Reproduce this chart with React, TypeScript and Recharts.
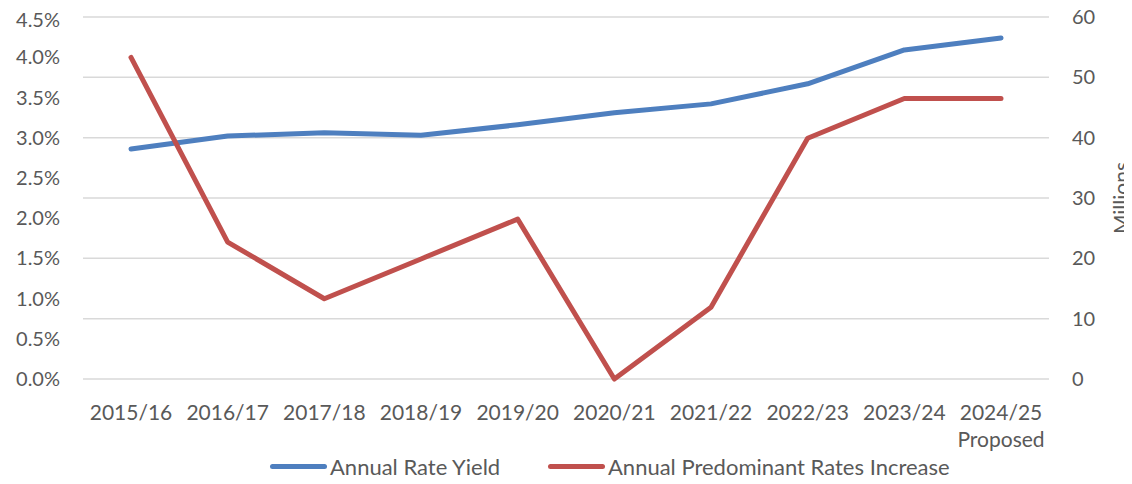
import {
  LineChart,
  Line,
  XAxis,
  YAxis,
  CartesianGrid,
  Legend,
} from "recharts";

const categories = [
  "2015/16",
  "2016/17",
  "2017/18",
  "2018/19",
  "2019/20",
  "2020/21",
  "2021/22",
  "2022/23",
  "2023/24",
  "2024/25\nProposed",
];

// percent
const rateYield = [2.86, 3.02, 3.06, 3.03, 3.16, 3.31, 3.42, 3.67, 4.09, 4.24];
// millions
const ratesIncrease = [53.3, 22.7, 13.3, 19.9, 26.5, 0, 11.9, 39.9, 46.5, 46.5];

const leftTicks = [0, 0.5, 1, 1.5, 2, 2.5, 3, 3.5, 4, 4.5];
const rightTicks = [0, 10, 20, 30, 40, 50, 60];

const seriesNames = ["Annual Rate Yield", "Annual Predominant Rates Increase"];
const seriesColors = ["#4E7FBF", "#C0504D"];

const data = categories.map((c, i) => ({
  year: c,
  yield: rateYield[i],
  increase: ratesIncrease[i],
}));

const FONT = "Lato, 'Open Sans', sans-serif";
const TEXT = "#595959";

function XTick(props: any) {
  const { x, y, payload } = props;
  const lines = String(payload.value).split("\n");
  return (
    <text x={x} y={y} textAnchor="middle" fill={TEXT} fontSize={21} fontFamily={FONT}>
      {lines.map((l, i) => (
        <tspan key={i} x={x} dy={i === 0 ? 39 : 27}>
          {l}
        </tspan>
      ))}
    </text>
  );
}

function RightTick(props: any) {
  const { x, y, payload } = props;
  return (
    <text x={x + 23} y={y} dy="0.35em" textAnchor="start" fill={TEXT} fontSize={20} fontFamily={FONT}>
      {payload.value}
    </text>
  );
}

function MillionsLabel(props: any) {
  const { viewBox } = props;
  const x = viewBox.x + viewBox.width - 4;
  const y = viewBox.y + viewBox.height / 2;
  return (
    <text
      x={x}
      y={y}
      transform={`rotate(-90, ${x}, ${y})`}
      textAnchor="middle"
      dominantBaseline="central"
      fill={TEXT}
      fontSize={21}
      fontFamily={FONT}
    >
      Millions
    </text>
  );
}

function LegendContent() {
  return (
    <div
      style={{
        height: 35,
        display: "flex",
        alignItems: "center",
        paddingLeft: 262,
        paddingTop: 16,
        boxSizing: "border-box",
        fontFamily: FONT,
        fontSize: 22,
        color: TEXT,
        lineHeight: "22px",
      }}
    >
      {seriesNames.map((n, i) => (
        <div
          key={n}
          style={{ display: "flex", alignItems: "center", width: i === 0 ? 278 : "auto" }}
        >
          <span
            style={{
              display: "inline-block",
              width: 57,
              height: 5,
              borderRadius: 3,
              background: seriesColors[i],
              marginRight: 3,
            }}
          />
          <span>{n}</span>
        </div>
      ))}
    </div>
  );
}

export default function App() {
  return (
    <div style={{ width: 1124, height: 468, fontFamily: FONT }}>
      <LineChart
        width={1124}
        height={468}
        data={data}
        margin={{ top: 9, right: 8, bottom: 0, left: 0 }}
      >
        <CartesianGrid
          yAxisId="right"
          vertical={false}
          stroke="#D9D9D9"
          strokeWidth={1.5}
        />
        <XAxis
          dataKey="year"
          height={62}
          axisLine={false}
          tickLine={false}
          tickSize={0}
          interval={0}
          padding={{ left: 48, right: 48 }}
          tick={<XTick />}
        />
        <YAxis
          yAxisId="left"
          width={75}
          domain={[0, 4.5]}
          ticks={leftTicks}
          axisLine={false}
          tickLine={false}
          tickSize={0}
          tickMargin={23}
          tickFormatter={(v: number) => `${v.toFixed(1)}%`}
          tick={{ fill: TEXT, fontSize: 20, fontFamily: FONT }}
        />
        <YAxis
          yAxisId="right"
          orientation="right"
          width={75}
          domain={[0, 60]}
          ticks={rightTicks}
          axisLine={false}
          tickLine={false}
          tickSize={0}
          tickMargin={0}
          tick={<RightTick />}
          label={<MillionsLabel />}
        />
        <Legend verticalAlign="bottom" height={35} content={<LegendContent />} />
        <Line
          yAxisId="left"
          dataKey="yield"
          name={seriesNames[0]}
          stroke={seriesColors[0]}
          strokeWidth={5}
          strokeLinecap="round"
          strokeLinejoin="round"
          dot={false}
          isAnimationActive={false}
        />
        <Line
          yAxisId="right"
          dataKey="increase"
          name={seriesNames[1]}
          stroke={seriesColors[1]}
          strokeWidth={5}
          strokeLinecap="round"
          strokeLinejoin="round"
          dot={false}
          isAnimationActive={false}
        />
      </LineChart>
    </div>
  );
}
